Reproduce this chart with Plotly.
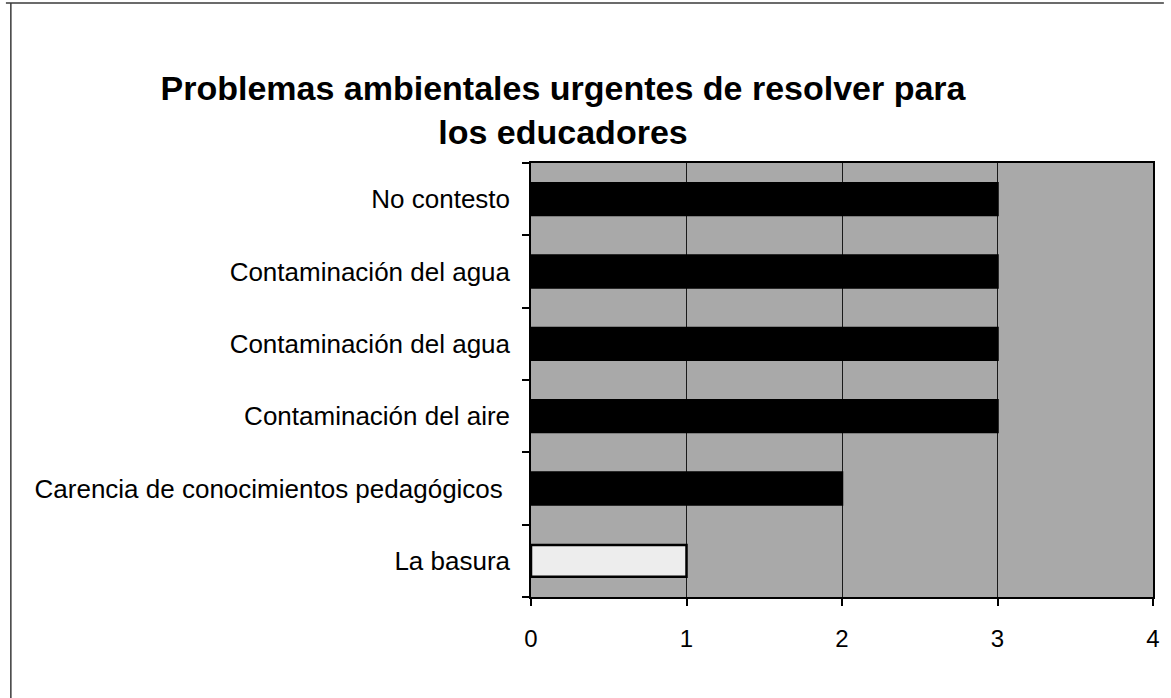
import plotly.graph_objects as go

# Categories listed bottom to top, with the count for each problem
categorias = [
    "La basura",
    "Carencia de conocimientos pedagógicos ",
    "Contaminación del aire",
    "Contaminación del agua",
    "Contaminación del agua",
    "No contesto",
]
valores = [1, 2, 3, 3, 3, 3]
colores_barra = ["#ededed", "#000000", "#000000", "#000000", "#000000", "#000000"]
ticks_x = [0, 1, 2, 3, 4]

W, H = 1171, 698
L, R, T, B = 531, 11, 163, 101
posiciones = list(range(len(categorias)))

fig = go.Figure()
fig.add_trace(go.Bar(
    x=valores,
    y=posiciones,
    orientation="h",
    width=0.44,
    marker=dict(color=colores_barra, line=dict(color="#000000", width=2.5)),
    hoverinfo="skip",
))

# outer frame of the page (top and left edges), placed in paper coordinates
pw, ph = W - L - R, H - T - B
def px_x(p):
    return (p - L) / pw
def px_y(p):
    return (H - B - p) / ph

fig.add_shape(type="line", xref="paper", yref="paper",
              x0=px_x(0), x1=px_x(W), y0=px_y(3), y1=px_y(3),
              line=dict(color="#3a3a3a", width=1.5))
fig.add_shape(type="line", xref="paper", yref="paper",
              x0=px_x(5), x1=px_x(5), y0=px_y(3), y1=px_y(H),
              line=dict(color="#3a3a3a", width=1.5))

fig.update_layout(
    width=W, height=H,
    margin=dict(l=L, r=R, t=T, b=B),
    paper_bgcolor="#ffffff",
    plot_bgcolor="#a9a9a9",
    showlegend=False,
    bargap=0.56,
    font=dict(family="Liberation Sans, Arial, sans-serif", color="#000000"),
    title=dict(
        text="<b>Problemas ambientales urgentes de resolver para<br>los educadores</b>",
        x=563 / W, xanchor="center",
        y=1 - 100 / H, yanchor="top",
        font=dict(size=34, family="Liberation Sans, Arial, sans-serif", color="#000000"),
    ),
    xaxis=dict(
        range=[0, 4],
        tickvals=ticks_x,
        ticks="outside", ticklen=7, tickcolor="#000000", tickwidth=1.5,
        tickfont=dict(size=24),
        ticklabelstandoff=12,
        showgrid=True, gridcolor="#1a1a1a", gridwidth=1.2,
        showline=True, linecolor="#000000", linewidth=1.5, mirror=True,
        zeroline=False, fixedrange=True,
    ),
    yaxis=dict(
        range=[-0.5, len(categorias) - 0.5],
        tickvals=posiciones,
        ticktext=categorias,
        ticks="",
        tickfont=dict(size=26),
        ticklabelstandoff=14,
        minor=dict(
            tickvals=[p - 0.5 for p in posiciones] + [len(categorias) - 0.5],
            ticks="outside", ticklen=7, tickcolor="#000000", tickwidth=1.5,
            showgrid=False,
        ),
        showgrid=False,
        showline=True, linecolor="#000000", linewidth=1.5, mirror=True,
        zeroline=False, fixedrange=True,
    ),
)

fig.write_html("out.html")
